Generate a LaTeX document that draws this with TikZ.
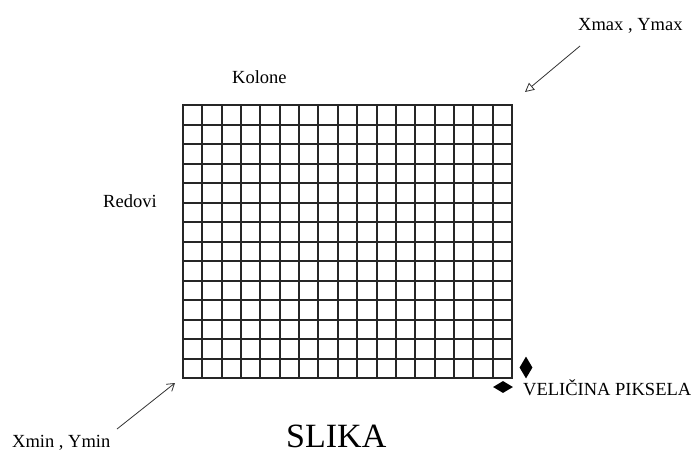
\documentclass[tikz,border=0pt]{standalone}
\usepackage{fontspec}
\setmainfont{Liberation Serif}
\usetikzlibrary{arrows.meta,shapes.geometric}
\tikzset{
  lbl/.style={anchor=base west, inner sep=0pt, font=\fontsize{18.5}{20}\selectfont},
  gridline/.style={line width=1.6pt, draw=black!85},
  pointer/.style={line width=0.8pt, draw=black!80},
  dia/.style={diamond, fill=black, draw=none, inner sep=0pt, aspect=1}
}
\begin{document}
\begin{tikzpicture}[x=1pt,y=-1pt]
\useasboundingbox (0,0) rectangle (696,458);
% grid
\foreach \i in {0,...,17} {
  \pgfmathsetmacro\xx{round(183+\i*329/17)}
  \draw[gridline] (\xx,104.2) -- (\xx,378.8);
}
\foreach \j in {0,...,14} {
  \pgfmathsetmacro\yy{round(105+\j*273/14)}
  \draw[gridline] (182.2,\yy) -- (512.8,\yy);
}
% labels
\node[lbl] (kol) at (232,83) {Kolone};
\node[lbl] (red) at (103,207) {Redovi};
\node[lbl] (xmax) at (578,30) {Xmax , Ymax};
\node[lbl] (xmin) at (12,447) {Xmin , Ymin};
\node[lbl] (vel) at (523,395) {VELIČINA PIKSELA};
\node[anchor=base west, inner sep=0pt, text depth=0pt, font=\fontsize{34}{36}\selectfont] (slika) at (286,447) {SLIKA};
% pointers
\coordinate (maxs) at (580,46);
\coordinate (maxe) at (525,92);
\coordinate (mins) at (117,429);
\coordinate (mine) at (175,383);
\draw[pointer, -{Triangle[open, length=9pt, width=9pt]}] (maxs) -- (maxe);
\draw[pointer, -{Straight Barb[length=7pt, width=9pt]}] (mins) -- (mine);
% diamonds
\node[dia, minimum width=13pt, minimum height=22pt] (dv) at (526,367.5) {};
\node[dia, minimum width=20pt, minimum height=12pt] (dh) at (503,387) {};
\end{tikzpicture}
\end{document}
